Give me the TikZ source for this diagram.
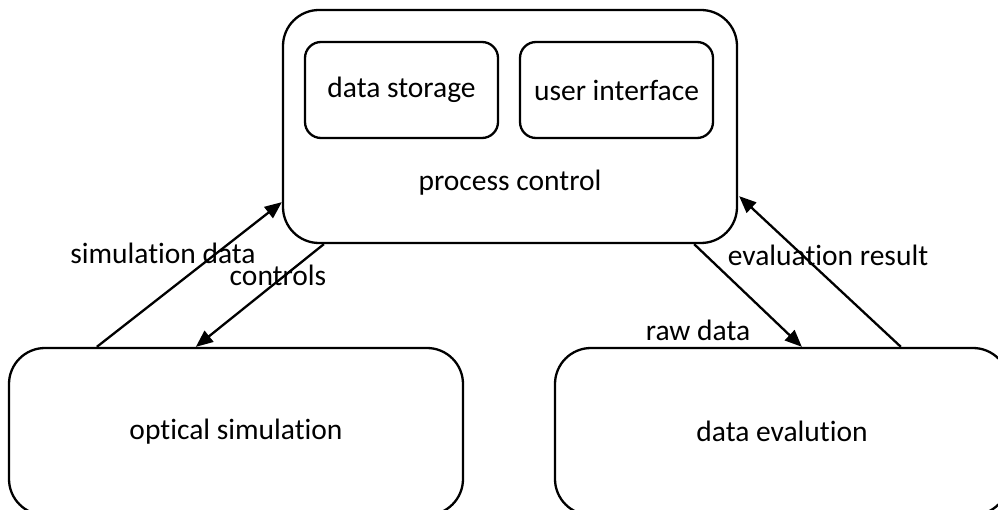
\documentclass[tikz,border=0pt]{standalone}
\usepackage{fontspec}
\setmainfont{Carlito}[Ligatures=NoCommon]
\usetikzlibrary{arrows.meta,calc}
\begin{document}
\begin{tikzpicture}[x=1pt,y=-1pt,
  txt/.style={font=\fontsize{29.5}{33}\selectfont},
  box/.style={draw=black,line width=2.3pt,rounded corners=36pt,inner sep=0pt},
  subbox/.style={draw=black,line width=2.3pt,rounded corners=16pt,inner sep=0pt,
    minimum width=193pt,minimum height=96pt,txt},
  lbl/.style={inner sep=0pt,txt},
  flow/.style={line width=2.3pt,-{Triangle[length=17pt,width=14pt]}}]
  \clip (0,0) rectangle (998,510);
  \path[use as bounding box] (0,0) rectangle (998,510);

  % main control unit with its two components
  \node[box,minimum width=454pt,minimum height=233pt] (pc) at (510,126.5) {};
  \node[lbl] (pctext) at (510,183) {process control};
  \node[subbox] (ds) at (401.5,90) {data storage};
  \node[subbox] (ui) at (616.5,90) {user interface};

  % the two worker units at the bottom
  \node[box,minimum width=454pt,minimum height=167pt,txt] (os) at (236,431.5) {optical simulation};
  \node[box,minimum width=454pt,minimum height=167pt,txt] (de) at (782,431.5) {data evalution};

  % attachment points on the box borders
  \coordinate (osout) at ($(os.north west)+(89,0)$);
  \coordinate (osin)  at ($(os.north west)+(188,0)$);
  \coordinate (pcinl) at ($(pc.south west)+(0,-42)$);
  \coordinate (pcoutl) at ($(pc.south west)+(42,0)$);
  \coordinate (pcoutr) at ($(pc.south east)+(-44,0)$);
  \coordinate (pcinr) at ($(pc.south east)+(1,-48)$);
  \coordinate (dein)  at ($(de.north west)+(248,0)$);
  \coordinate (deout) at ($(de.north west)+(347,0)$);

  \draw[flow] (osout) -- (pcinl);
  \draw[flow] (pcoutl) -- (osin);
  \draw[flow] (pcoutr) -- (dein);
  \draw[flow] (deout) -- (pcinr);

  \node[lbl] (l1) at (163,253) {simulation data};
  \node[lbl] (l2) at (278,275) {controls};
  \node[lbl] (l3) at (828,255) {evaluation result};
  \node[lbl] (l4) at (698,330) {raw data};
\end{tikzpicture}
\end{document}
